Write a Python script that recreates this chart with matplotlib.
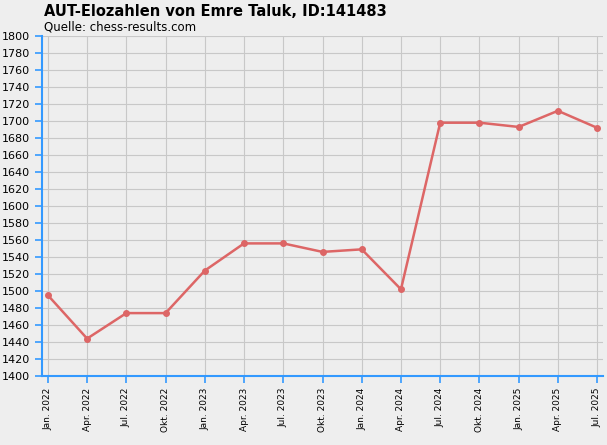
import matplotlib.pyplot as plt

# Elo values
dates = ["Jan. 2022", "Apr. 2022", "Jul. 2022", "Okt. 2022", "Jan. 2023", "Apr. 2023",
         "Jul. 2023", "Okt. 2023", "Jan. 2024", "Apr. 2024", "Jul. 2024", "Okt. 2024",
         "Jan. 2025", "Apr. 2025", "Jul. 2025"]
elo = [1495, 1444, 1474, 1474, 1524, 1556, 1556, 1546, 1549, 1502,
       1698, 1698, 1693, 1712, 1692]
yticks = list(range(1400, 1801, 20))

bg = "#eeeeee"
blue = "#3399ff"

fig = plt.figure(figsize=(6.07, 4.45), dpi=100, facecolor=bg)
ax = fig.add_axes([42/607, 69/445, 561/607, 340/445], facecolor=bg)

x = list(range(len(dates)))
ax.plot(x, elo, color="#dd6666", lw=1.8, marker="o", ms=4, zorder=3)

ax.set_xlim(-0.15, len(dates) - 1 + 0.15)
ax.set_ylim(1400, 1800)
ax.set_yticks(yticks)
ax.set_yticklabels([str(v) for v in yticks], fontsize=8)
ax.set_xticks(x)
ax.set_xticklabels(dates, rotation=90, fontsize=6.5, va="top", ha="center")
ax.grid(True, color="#c8c8c8", lw=0.8)

for s in ["top", "right"]:
    ax.spines[s].set_visible(False)
for s in ["left", "bottom"]:
    ax.spines[s].set_color(blue)
    ax.spines[s].set_linewidth(1.5)
ax.tick_params(axis="both", colors=blue, labelcolor="black", length=5, width=1.2)

fig.text(44/607, 1 - 12/445, "AUT-Elozahlen von Emre Taluk, ID:141483",
         fontsize=10.5, fontweight="bold", va="center")
fig.text(44/607, 1 - 27/445, "Quelle: chess-results.com", fontsize=8.5, va="center")

fig.savefig("out.png", dpi=100, facecolor=bg)
